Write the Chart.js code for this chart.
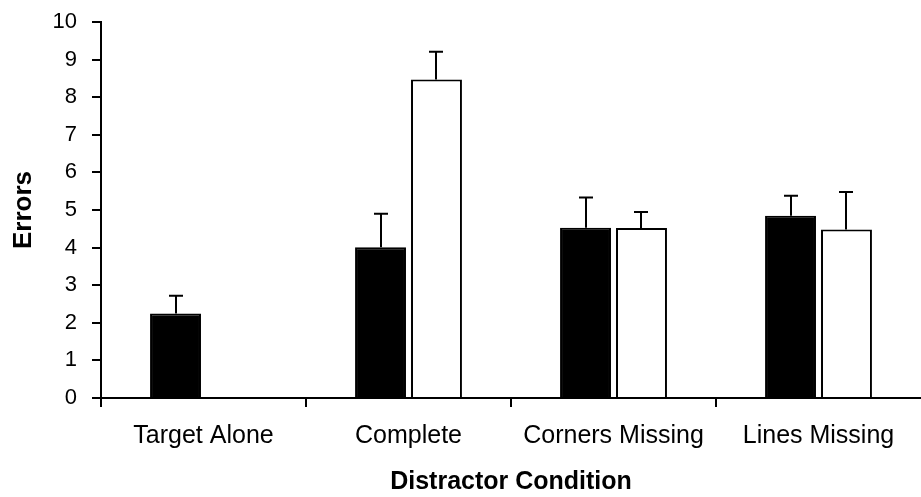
<!DOCTYPE html>
<html>
<head>
<meta charset="utf-8">
<script src="https://cdn.jsdelivr.net/npm/chart.js@4/dist/chart.umd.min.js"></script>
<style>
html,body{margin:0;padding:0;background:#fff;}
#wrap{width:921px;height:497px;position:relative;}
</style>
</head>
<body>
<div id="wrap"><canvas id="c" width="921" height="497"></canvas></div>
<script>
const categories = ["Target Alone", "Complete", "Corners Missing", "Lines Missing"];
const series1Values = [2.25, 4.01, 4.53, 4.85];
const series1Errors = [0.47, 0.89, 0.80, 0.53];
const series2Values = [null, 8.47, 4.52, 4.48];
const series2Errors = [null, 0.74, 0.43, 1.00];
const yTicks = [0,1,2,3,4,5,6,7,8,9,10];

const errorData = [series1Errors, series2Errors];
const FONT = 'Liberation Sans, Arial, sans-serif';

const errorBars = {
  id: 'errorBars',
  afterDatasetsDraw(chart) {
    const ctx = chart.ctx;
    const y = chart.scales.y;
    ctx.save();
    ctx.strokeStyle = '#000';
    ctx.lineWidth = 2;
    chart.data.datasets.forEach((ds, di) => {
      const meta = chart.getDatasetMeta(di);
      meta.data.forEach((el, i) => {
        const v = ds.data[i];
        const e = errorData[di][i];
        if (v == null || e == null) return;
        const x = Math.round(el.x);
        const y0 = y.getPixelForValue(v);
        const y1 = y.getPixelForValue(v + e);
        ctx.beginPath();
        ctx.moveTo(x, y0);
        ctx.lineTo(x, y1);
        ctx.moveTo(x - 7, y1);
        ctx.lineTo(x + 7, y1);
        ctx.stroke();
      });
    });
    ctx.restore();
  }
};

new Chart(document.getElementById('c'), {
  type: 'bar',
  data: {
    labels: categories,
    datasets: [
      { label: 'Series 1', data: series1Values, backgroundColor: '#000', borderColor: '#000', borderWidth: 2 },
      { label: 'Series 2', data: series2Values, backgroundColor: '#fff', borderColor: '#000', borderWidth: 2 }
    ]
  },
  options: {
    responsive: false,
    animation: false,
    events: [],
    categoryPercentage: 0.546,
    barPercentage: 0.91,
    layout: { padding: { left: 0, right: 0, top: 22, bottom: 0 } },
    plugins: { legend: { display: false }, tooltip: { enabled: false } },
    scales: {
      x: {
        offset: true,
        grid: { offset: true, drawOnChartArea: false, drawTicks: true, tickLength: 9,
                color: (c) => (c.index === undefined || c.index >= categories.length ? 'rgba(0,0,0,0)' : '#000'), lineWidth: 2 },
        border: { display: true, color: '#000', width: 2 },
        ticks: { color: '#000', font: { family: FONT, size: 25 }, padding: 14, maxRotation: 0 },
        title: { display: true, text: 'Distractor Condition', color: '#000', font: { family: FONT, size: 25, weight: 'bold' }, padding: { top: 0, bottom: 0 } },
        afterFit(s) { s.height = 99; s.paddingLeft = 0; s.paddingRight = 0; }
      },
      y: {
        min: 0, max: 10,
        afterBuildTicks(s) { s.ticks = yTicks.map(v => ({ value: v })); },
        grid: { drawOnChartArea: false, drawTicks: true, tickLength: 9, color: '#000', lineWidth: 2 },
        border: { display: true, color: '#000', width: 2 },
        ticks: { color: '#000', font: { family: FONT, size: 22 }, padding: 15 },
        title: { display: true, text: 'Errors', color: '#000', font: { family: FONT, size: 26, weight: 'bold' }, padding: { top: 8, bottom: 0 } },
        afterFit(s) { s.width = 101; s.paddingTop = 0; s.paddingBottom = 0; }
      }
    }
  },
  plugins: [errorBars]
});
</script>
</body>
</html>
